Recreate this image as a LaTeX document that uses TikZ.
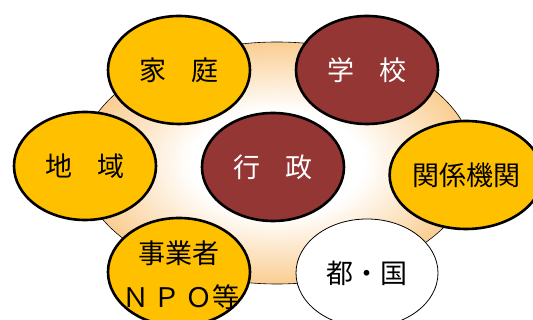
\documentclass[tikz,border=0pt]{standalone}
\usepackage{fontspec}
\setmainfont{Noto Sans CJK JP}
\usetikzlibrary{shapes.geometric}
\definecolor{gold}{RGB}{255,192,0}
\definecolor{maroon}{RGB}{148,54,52}
\definecolor{peach}{RGB}{250,205,145}
\pgfdeclareradialshading{bgshade}{\pgfpoint{0bp}{0bp}}{color(0bp)=(white); color(11bp)=(white); color(25bp)=(peach); color(50bp)=(peach)}
\tikzset{
  txt/.style={font=\fontsize{27}{30}\selectfont, inner sep=0pt},
  blob/.style={ellipse, draw=black, line width=2.6pt, minimum width=142pt, minimum height=108pt, inner sep=0pt, txt},
  goldblob/.style={blob, fill=gold, text=black},
  redblob/.style={blob, fill=maroon, text=white},
  whiteblob/.style={blob, fill=white, line width=0.8pt, text=black}
}
\begin{document}
\begin{tikzpicture}[x=1pt,y=1pt]
\useasboundingbox (0,0) rectangle (533,320);
\clip (0,0) rectangle (533,320);
\shade[shading=bgshade] (277,157) ellipse [x radius=197, y radius=121];
\draw[line width=0.6pt] (277,157) ellipse [x radius=197, y radius=121];
\node[goldblob] (katei) at (179,250) {家\hspace{0.9em}庭};
\node[redblob] (gakko) at (367,250) {学\hspace{0.9em}校};
\node[goldblob] (chiiki) at (85,154) {地\hspace{0.9em}域};
\node[redblob] (gyosei) at (273,153) {行\hspace{0.9em}政};
\node[goldblob] (kankei) at (466,145) {関係機関};
\node[goldblob] (jigyo) at (179,48) {};
\node[txt] (jigyo1) at (179,67) {事業者};
\node[txt] (jigyo2) at (181,23) {Ｎ\,Ｐ\,Ｏ等};
\node[whiteblob] (tokoku) at (367,47) {都・国};
\end{tikzpicture}
\end{document}
